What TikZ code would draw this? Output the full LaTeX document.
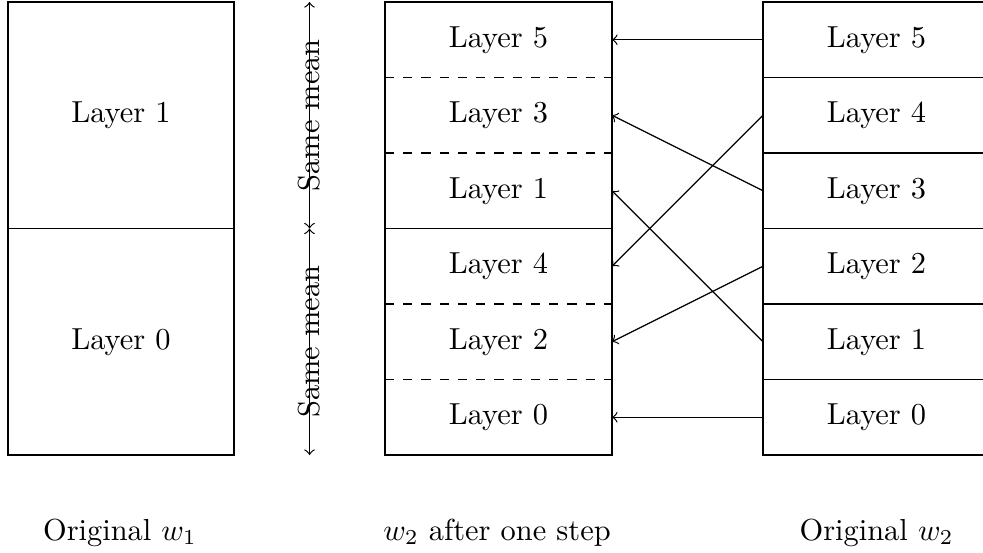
\documentclass[tikz,border=0pt]{standalone}
\begin{document}
\begin{tikzpicture}[x=0.3289pt,y=-0.3289pt,
  rowbox/.style={minimum width=74.66pt,minimum height=24.83pt,inner sep=0pt,outer sep=0pt},
  bigbox/.style={draw,minimum width=74.33pt,minimum height=74.5pt,inner sep=0pt,outer sep=0pt},
  caption/.style={anchor=base,inner sep=0pt},
  conn/.style={->}]
\useasboundingbox (0,0) rectangle (983,552);
% left column
\node[bigbox] (l1) at (121,115.25) {Layer 1};
\node[bigbox] (l0) at (121,341.75) {Layer 0};
% middle column
\node[rowbox] (m5) at (498.5,39.75) {Layer 5};
\node[rowbox] (m3) at (498.5,115.25) {Layer 3};
\node[rowbox] (m1) at (498.5,190.75) {Layer 1};
\node[rowbox] (m4) at (498.5,266.25) {Layer 4};
\node[rowbox] (m2) at (498.5,341.75) {Layer 2};
\node[rowbox] (m0) at (498.5,417.25) {Layer 0};
\draw (m5.north west) rectangle (m0.south east);
\draw (m1.south west) -- (m1.south east);
\draw[dashed] (m5.south west) -- (m5.south east);
\draw[dashed] (m3.south west) -- (m3.south east);
\draw[dashed] (m4.south west) -- (m4.south east);
\draw[dashed] (m2.south west) -- (m2.south east);
% right column (its right side lies beyond the picture's edge)
\node[rowbox] (r5) at (876.5,39.75) {Layer 5};
\node[rowbox] (r4) at (876.5,115.25) {Layer 4};
\node[rowbox] (r3) at (876.5,190.75) {Layer 3};
\node[rowbox] (r2) at (876.5,266.25) {Layer 2};
\node[rowbox] (r1) at (876.5,341.75) {Layer 1};
\node[rowbox] (r0) at (876.5,417.25) {Layer 0};
\draw (r5.north east) -- (r5.north west) -- (r0.south west) -- (r0.south east);
\draw (r5.south west) -- (r5.south east);
\draw (r4.south west) -- (r4.south east);
\draw (r3.south west) -- (r3.south east);
\draw (r2.south west) -- (r2.south east);
\draw (r1.south west) -- (r1.south east);
% connectors
\draw[conn] (r5.west) -- (m5.east);
\draw[conn] (r4.west) -- (m4.east);
\draw[conn] (r3.west) -- (m3.east);
\draw[conn] (r2.west) -- (m2.east);
\draw[conn] (r1.west) -- (m1.east);
\draw[conn] (r0.west) -- (m0.east);
% same mean arrows
\coordinate (atop) at (309.5,2);
\coordinate (amid) at (309.5,228.5);
\coordinate (abot) at (309.5,455);
\draw[<->] (atop) -- node[rotate=90] (sm1) {Same mean} (amid);
\draw[<->] (amid) -- node[rotate=90] (sm2) {Same mean} (abot);
% captions
\node[caption] (c1) at (120,540) {Original $w_1$};
\node[caption] (c2) at (497,540) {$w_2$ after one step};
\node[caption] (c3) at (876.5,540) {Original $w_2$};
\end{tikzpicture}
\end{document}
